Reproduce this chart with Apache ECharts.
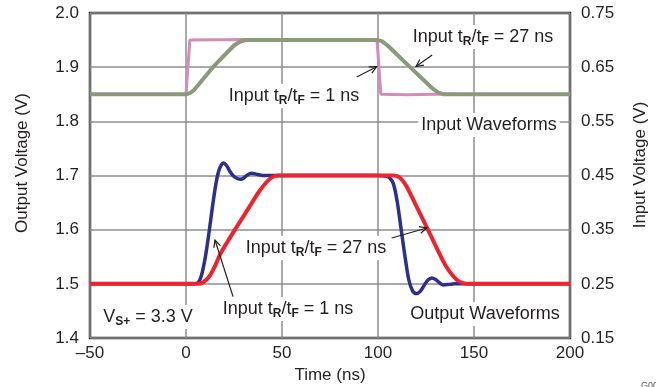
<!DOCTYPE html>
<html><head><meta charset="utf-8">
<script src="https://cdn.jsdelivr.net/npm/echarts@6/dist/echarts.min.js"></script>
<style>html,body{margin:0;padding:0;background:#fff}#c{width:656px;height:387px}</style>
</head><body><div id="c"></div>
<script>
// ---- data (time in ns, voltage in V) ----
const xTicks = [-50, 0, 50, 100, 150, 200];
const leftTicks = [1.4, 1.5, 1.6, 1.7, 1.8, 1.9, 2.0];
const rightTicks = [0.15, 0.25, 0.35, 0.45, 0.55, 0.65, 0.75];
// Input waveforms (right axis)
const input1ns = [[-50,0.600],[0,0.600],[1,0.650],[2,0.700],[30,0.701],[60,0.700],[99.5,0.700],[100.5,0.650],[101.5,0.600],[115,0.599],[130,0.600],[200,0.600]];
const input27ns = [[-50,0.600],[0,0.600],[2,0.602],[4,0.607],[14,0.650],[25,0.690],[28,0.697],[31,0.700],[100,0.700],[102,0.698],[105,0.690],[116.7,0.650],[128,0.612],[131,0.604],[134,0.600],[200,0.600]];
// Output waveforms (left axis)
const output1ns = [[-50,1.5],[5,1.5],[6.5,1.503],[8,1.515],[10,1.548],[12,1.595],[14,1.648],[15.6,1.685],[17,1.708],[18.5,1.72],[19.5,1.723],[21,1.719],[23,1.707],[25,1.698],[27,1.694],[28.5,1.693],[30,1.695],[32,1.701],[34,1.704],[36,1.703],[38.5,1.701],[41,1.700],[45,1.700],[100,1.700],[104,1.699],[106,1.696],[108,1.685],[110,1.652],[112,1.602],[114,1.552],[116,1.508],[118,1.487],[120,1.482],[122,1.486],[124,1.497],[126,1.507],[128,1.511],[130,1.508],[132,1.502],[134,1.498],[137,1.499],[140,1.5],[200,1.5]];
const output27ns = [[-50,1.5],[6,1.5],[9,1.503],[12,1.513],[15,1.532],[18,1.556],[25.5,1.600],[33,1.642],[38,1.670],[42,1.688],[45,1.697],[48,1.700],[108,1.700],[111,1.697],[114,1.685],[117,1.665],[126,1.600],[135,1.535],[139,1.515],[142,1.505],[146,1.500],[200,1.500]];

const FONT = '"Liberation Sans", Arial, Helvetica, sans-serif';
const TXT = '#231f20';
const chart = echarts.init(document.getElementById('c'), null, {renderer:'canvas'});

function richLabel(main){ return main; }
const richStyle = {
  a:{fontSize:18, fontFamily:FONT, fill:TXT, color:TXT, lineHeight:22},
  s:{fontSize:12, fontWeight:'bold', fontFamily:FONT, fill:TXT, color:TXT, lineHeight:14, verticalAlign:'bottom'}
};
function annot(text, x, y, align){
  return {type:'text', z:50, x:x, y:y, style:{text:text, rich:richStyle, font:'18px '+FONT, fill:TXT,
    textAlign:align||'center', textVerticalAlign:'middle', align:align||'center', verticalAlign:'middle',
    backgroundColor:'#fff', padding:[1,3,1,3]}};
}

const option = {
  animation:false,
  backgroundColor:'#fff',
  grid:{left:90, right:86, top:13, bottom:49, show:true, borderColor:TXT, borderWidth:2.5, backgroundColor:'transparent'},
  xAxis:{type:'value', min:-50, max:200, interval:50,
    axisLine:{show:false}, axisTick:{show:false},
    splitLine:{show:true, lineStyle:{color:'#8e8e8e', width:1.5}},
    axisLabel:{margin:7, fontSize:17, fontFamily:FONT, color:TXT,
      formatter:v => (xTicks.indexOf(v)>=0 ? String(v).replace('-', '\u2013') : '')}},
  yAxis:[
    {type:'value', min:1.4, max:2.0, interval:0.1, position:'left',
      axisLine:{show:false}, axisTick:{show:false},
      splitLine:{show:true, lineStyle:{color:'#8e8e8e', width:1.5}},
      axisLabel:{margin:11, fontSize:17, fontFamily:FONT, color:TXT,
        formatter:v => { const m = leftTicks.find(t => Math.abs(t-v)<1e-6); return m===undefined?'':m.toFixed(1); }}},
    {type:'value', min:0.15, max:0.75, interval:0.05, position:'right',
      axisLine:{show:false}, axisTick:{show:false}, splitLine:{show:false},
      axisLabel:{margin:11, fontSize:17, fontFamily:FONT, color:TXT,
        formatter:v => { const m = rightTicks.find(t => Math.abs(t-v)<1e-6); return m===undefined?'':m.toFixed(2); }}}
  ],
  series:[
    {name:'Input 1 ns', type:'line', yAxisIndex:1, data:input1ns, showSymbol:false, symbol:'none',
      lineStyle:{color:'#d68bb7', width:3}, z:3},
    {name:'Input 27 ns', type:'line', yAxisIndex:1, data:input27ns, showSymbol:false, symbol:'none',
      lineStyle:{color:'#8b9a7b', width:4}, z:4},
    {name:'Output 1 ns', type:'line', yAxisIndex:0, data:output1ns, showSymbol:false, symbol:'none', smooth:0.3,
      lineStyle:{color:'#2c2f8e', width:3.5}, z:5},
    {name:'Output 27 ns', type:'line', yAxisIndex:0, data:output27ns, showSymbol:false, symbol:'none', smooth:0.3,
      lineStyle:{color:'#ee232e', width:4}, z:6}
  ]
};
chart.setOption(option);

// arrows defined in data coordinates (left axis): [tailT, tailV, headT, headV]
const arrows = [[128.2,1.9225,119.8,1.9012],[88.9,1.8818,99.3,1.9009],[107.1,1.5846,125.4,1.6031],[24.5,1.4763,15.1,1.5809]];
const g = [];
arrows.forEach(a => {
  const p0 = chart.convertToPixel({xAxisIndex:0, yAxisIndex:0}, [a[0],a[1]]);
  const p1 = chart.convertToPixel({xAxisIndex:0, yAxisIndex:0}, [a[2],a[3]]);
  const ang = Math.atan2(p1[1]-p0[1], p1[0]-p0[0]);
  const L = 8, w = 0.45;
  const h1 = [p1[0]-L*Math.cos(ang-w), p1[1]-L*Math.sin(ang-w)];
  const h2 = [p1[0]-L*Math.cos(ang+w), p1[1]-L*Math.sin(ang+w)];
  g.push({type:'line', z:60, shape:{x1:p0[0],y1:p0[1],x2:p1[0],y2:p1[1]}, style:{stroke:TXT, lineWidth:1.2}});
  g.push({type:'polyline', z:60, shape:{points:[h1,p1,h2]}, style:{stroke:TXT, lineWidth:1.2, fill:null}});
});
g.push(annot('{a|Input t}{s|R}{a|/t}{s|F}{a| = 27 ns}', 483, 37));
g.push(annot('{a|Input t}{s|R}{a|/t}{s|F}{a| = 1 ns}', 294, 96));
g.push(annot('{a|Input Waveforms}', 489, 125));
g.push(annot('{a|Input t}{s|R}{a|/t}{s|F}{a| = 27 ns}', 316, 248));
g.push(annot('{a|Input t}{s|R}{a|/t}{s|F}{a| = 1 ns}', 288, 309));
g.push(annot('{a|V}{s|S+}{a| = 3.3 V}', 148, 317));
g.push(annot('{a|Output Waveforms}', 485, 314));
// axis titles
g.push({type:'text', z:50, x:22, y:163, rotation:Math.PI/2, style:{text:'Output Voltage (V)', font:'17px '+FONT, fill:TXT, textAlign:'center', textVerticalAlign:'middle', align:'center', verticalAlign:'middle'}});
g.push({type:'text', z:50, x:640, y:165, rotation:Math.PI/2, style:{text:'Input Voltage (V)', font:'17px '+FONT, fill:TXT, textAlign:'center', textVerticalAlign:'middle', align:'center', verticalAlign:'middle'}});
g.push({type:'text', z:50, x:330, y:375, style:{text:'Time (ns)', font:'17px '+FONT, fill:TXT, textAlign:'center', textVerticalAlign:'middle', align:'center', verticalAlign:'middle'}});
g.push({type:'text', z:50, x:641, y:381, style:{text:'G001', font:'9px '+FONT, fill:'#555', textAlign:'left', textVerticalAlign:'top', align:'left', verticalAlign:'top'}});
chart.setOption({graphic:g});
</script></body></html>
